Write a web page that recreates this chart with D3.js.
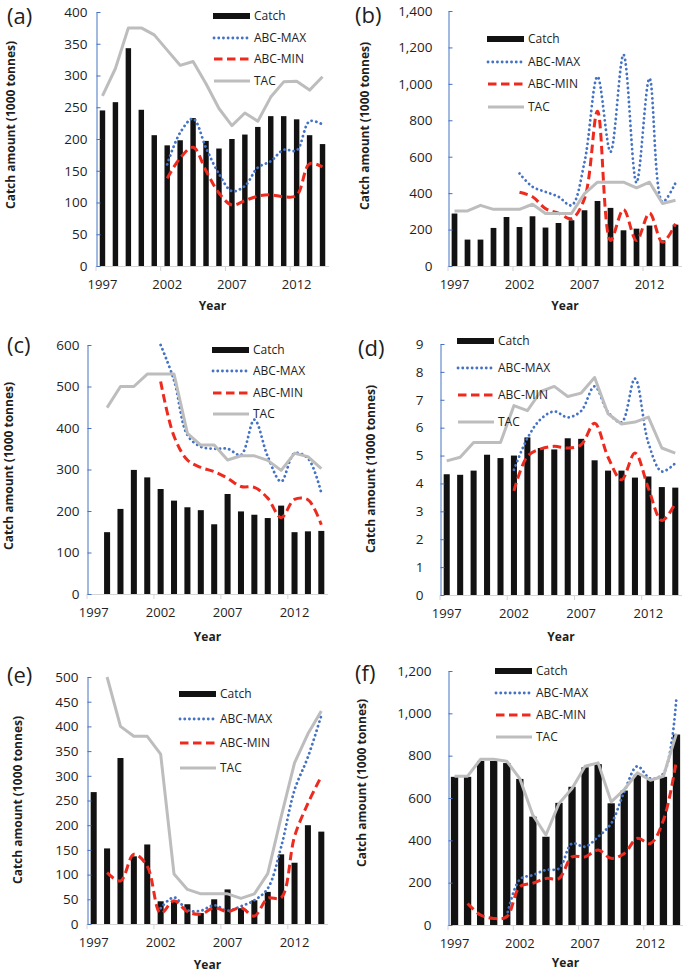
<!DOCTYPE html>
<html lang="en">
<head>
<meta charset="UTF-8">
<title>Catch, ABC and TAC by stock</title>
<script src="https://d3js.org/d3.v7.min.js"></script>
<style>
    body { margin: 0; background: #fff; }
    svg { display: block; }
    text { font-family: "Open Sans", sans-serif; fill: #1e1e1e; }
</style>
</head>
<body>
<svg id="chart" width="685" height="975"></svg>
<script>
// categories
var years = [1997, 1998, 1999, 2000, 2001, 2002, 2003, 2004, 2005, 2006, 2007, 2008, 2009, 2010, 2011, 2012, 2013, 2014];
var yearLabels = [1997, 2002, 2007, 2012];
var seriesNames = ["Catch", "ABC-MAX", "ABC-MIN", "TAC"];
var yTitle = "Catch amount (1000 tonnes)";

// (a)
var catchA  = [245, 258, 343, 246, 206, 190, 198, 233, 197, 185, 200, 207, 219, 236, 236, 231, 206, 192];
var abcMaxA = [null, null, null, null, null, 160, 210, 232, 186, 145, 118, 126, 155, 165, 183, 182, 228, 223];
var abcMinA = [null, null, null, null, null, 138, 170, 187, 150, 115, 96, 103, 110, 112, 109, 111, 161, 156];
var tacA    = [268, 311, 375, 375, 364, 340, 316, 322, 287, 248, 221, 241, 228, 266, 290, 291, 277, 298];

// (b)
var catchB  = [288, 145, 145, 209, 269, 214, 273, 211, 236, 251, 306, 357, 319, 196, 205, 222, 141, 227];
var abcMaxB = [null, null, null, null, null, 508, 435, 407, 380, 333, 570, 1040, 627, 1160, 458, 1030, 352, 456];
var abcMinB = [null, null, null, null, null, 405, 380, 315, 290, 260, 370, 850, 140, 310, 140, 290, 130, 232];
var tacB    = [302, 302, 333, 311, 311, 311, 339, 288, 288, 288, 397, 460, 460, 460, 429, 460, 343, 361];

// (c)
var catchC  = [null, 149, 205, 299, 281, 253, 225, 209, 202, 168, 241, 199, 191, 183, 213, 149, 151, 152];
var abcMaxC = [null, null, null, null, null, 600, 515, 383, 355, 350, 350, 335, 420, 331, 271, 339, 327, 243];
var abcMinC = [null, null, null, null, null, 512, 380, 323, 305, 295, 279, 259, 257, 231, 184, 228, 227, 167];
var tacC    = [null, 449, 500, 500, 530, 530, 530, 387, 359, 359, 323, 333, 333, 322, 298, 339, 331, 302];

// (d)
var catchD  = [4.33, 4.31, 4.46, 5.03, 4.91, 5.0, 5.65, 5.27, 5.22, 5.62, 5.6, 4.83, 4.46, 4.46, 4.21, 4.25, 3.87, 3.85];
var abcMaxD = [null, null, null, null, null, 4.49, 5.62, 6.31, 6.58, 6.37, 6.6, 7.48, 6.56, 6.19, 7.76, 5.45, 4.43, 4.73];
var abcMinD = [null, null, null, null, null, 3.73, 4.97, 5.24, 5.33, 5.27, 5.39, 6.16, 4.94, 4.13, 5.09, 3.83, 2.67, 3.29];
var tacD    = [4.81, 4.94, 5.47, 5.47, 5.47, 6.79, 6.61, 7.3, 7.48, 7.12, 7.24, 7.8, 6.5, 6.13, 6.2, 6.38, 5.27, 5.09];

// (e)
var catchE  = [267, 153, 336, 137, 161, 46, 45, 40, 22, 50, 70, 32, 48, 65, 141, 124, 200, 187];
var abcMaxE = [null, null, null, null, null, 32, 54, 28, 27, 38, 27, 36, 48, 72, 156, 271, 338, 422];
var abcMinE = [null, 104, 87, 141, 117, 22, 47, 25, 20, 33, 25, 33, 16, 52, 53, 177, 244, 299];
var tacE    = [null, 500, 400, 380, 380, 344, 101, 70, 61, 61, 61, 52, 61, 102, 217, 326, 385, 431];

// (f)
var catchF  = [700, 700, 775, 775, 765, 690, 512, 417, 577, 653, 745, 760, 575, 635, 710, 685, 700, 900];
var abcMaxF = [null, null, null, null, 40, 215, 236, 260, 267, 385, 370, 417, 480, 629, 750, 692, 716, 1077];
var abcMinF = [null, 102, 47, 31, 39, 181, 197, 220, 220, 322, 322, 354, 315, 338, 409, 385, 495, 778];
var tacF    = [703, 703, 783, 783, 774, 692, 519, 425, 574, 645, 750, 766, 582, 640, 719, 684, 703, 904];

// panel layout (pixel frame of each small chart)
var panels = [
    { tag: "(a)", data: [catchA, abcMaxA, abcMinA, tacA], yMax: 400,  yStep: 50,  fmt: "d",
      x0: 96,  x1: 329, top: 12,  bottom: 266, pad: 9,  bar: 0.42,
      tagX: 7,   tagY: 24,  titleX: 15,  titleY: 125, yearDy: 44,
      legX: 213, legY: [16, 38, 59, 81] },
    { tag: "(b)", data: [catchB, abcMaxB, abcMinB, tacB], yMax: 1400, yStep: 200, fmt: ",",
      x0: 448, x1: 682, top: 11,  bottom: 266, pad: 16, bar: 0.44,
      tagX: 355, tagY: 23,  titleX: 369, titleY: 126, yearDy: 44,
      legX: 487, legY: [39, 62, 84, 107] },
    { tag: "(c)", data: [catchC, abcMaxC, abcMinC, tacC], yMax: 600,  yStep: 100, fmt: "d",
      x0: 87,  x1: 328, top: 345, bottom: 594, pad: 8,  bar: 0.45,
      tagX: 7,   tagY: 353, titleX: 13,  titleY: 466, yearDy: 47,
      legX: 212, legY: [350, 371, 393, 414] },
    { tag: "(d)", data: [catchD, abcMaxD, abcMinD, tacD], yMax: 9,    yStep: 1,   fmt: "d",
      x0: 440, x1: 682, top: 344, bottom: 595, pad: 17, bar: 0.45,
      tagX: 358, tagY: 356, titleX: 375, titleY: 469, yearDy: 46,
      legX: 457, legY: [341, 368, 395, 422] },
    { tag: "(e)", data: [catchE, abcMaxE, abcMinE, tacE], yMax: 500,  yStep: 50,  fmt: "d",
      x0: 87,  x1: 328, top: 677, bottom: 924, pad: 9,  bar: 0.45,
      tagX: 7,   tagY: 683, titleX: 22,  titleY: 800, yearDy: 45,
      legX: 179, legY: [694, 719, 743, 768] },
    { tag: "(f)", data: [catchF, abcMaxF, abcMinF, tacF], yMax: 1200, yStep: 200, fmt: ",",
      x0: 448, x1: 683, top: 671, bottom: 925, pad: 17, bar: 0.56,
      tagX: 355, tagY: 681, titleX: 366, titleY: 783, yearDy: 42,
      legX: 495, legY: [671, 693, 715, 737] }
];

var blue = "#4472c4", red = "#ee2a1e", gray = "#bdbdbd";
var lineStyles = [
    null,
    { color: blue, width: 2.8, dash: "0.1 4.6", cap: "round", smooth: true },
    { color: red,  width: 3,   dash: "8.5 4.5", cap: "butt",  smooth: true },
    { color: gray, width: 3,   dash: null,      cap: "butt",  smooth: false }
];

var svg = d3.select("#chart");

panels.forEach(function(p) {
    var g = svg.append("g");

    var x = d3.scaleBand()
        .domain(years)
        .range([p.x0, p.x1])
        .paddingInner(1 - p.bar)
        .paddingOuter((1 - p.bar) / 2);

    var xEdge = d3.scaleLinear()
        .domain([0, years.length])
        .range([p.x0, p.x1]);

    var y = d3.scaleLinear()
        .domain([0, p.yMax])
        .range([p.bottom, p.top]);

    // bars
    var catchVals = p.data[0];
    g.selectAll("rect.bar")
        .data(years.map(function(yr, i) { return { year: yr, v: catchVals[i] }; })
                   .filter(function(d) { return d.v != null; }))
        .enter().append("rect")
        .attr("class", "bar")
        .attr("x", function(d) { return x(d.year); })
        .attr("width", x.bandwidth())
        .attr("y", function(d) { return y(d.v); })
        .attr("height", function(d) { return p.bottom - y(d.v); })
        .attr("fill", "#121212");

    // x axis line + ticks on category boundaries
    g.append("line")
        .attr("x1", p.x0).attr("x2", p.x1)
        .attr("y1", p.bottom + 0.5).attr("y2", p.bottom + 0.5)
        .attr("stroke", "#d4d4d4");
    g.selectAll("line.xtick")
        .data([0, 5, 10, 15])
        .enter().append("line")
        .attr("x1", function(d) { return xEdge(d); })
        .attr("x2", function(d) { return xEdge(d); })
        .attr("y1", p.bottom).attr("y2", p.bottom + 5)
        .attr("stroke", "#d4d4d4");

    var xAxis = g.append("g")
        .attr("transform", "translate(0," + p.bottom + ")")
        .call(d3.axisBottom(x).tickValues(yearLabels).tickSize(0).tickPadding(14));
    xAxis.select(".domain").remove();
    xAxis.selectAll("text")
        .style("font-family", "Open Sans, sans-serif")
        .style("font-size", "13px")
        .attr("fill", "#1e1e1e");

    // y axis
    var yAxis = g.append("g")
        .attr("transform", "translate(" + (p.x0 + 0.5) + ",0)")
        .call(d3.axisLeft(y)
            .tickValues(d3.range(0, p.yMax + p.yStep / 2, p.yStep))
            .tickFormat(d3.format(p.fmt))
            .tickSizeInner(-4).tickSizeOuter(0)
            .tickPadding(p.pad));
    yAxis.select(".domain").attr("stroke", blue);
    yAxis.selectAll(".tick line").attr("stroke", blue);
    yAxis.selectAll("text")
        .style("font-family", "Open Sans, sans-serif")
        .style("font-size", "13.5px")
        .attr("fill", "#1e1e1e");

    // lines
    for (var s = 1; s < 4; s++) {
        var vals = p.data[s];
        var st = lineStyles[s];
        var line = d3.line()
            .defined(function(d) { return d.v != null; })
            .x(function(d) { return x(d.year) + x.bandwidth() / 2; })
            .y(function(d) { return y(d.v); })
            .curve(st.smooth ? d3.curveCatmullRom.alpha(0.5) : d3.curveLinear);
        g.append("path")
            .datum(years.map(function(yr, i) { return { year: yr, v: vals[i] }; }))
            .attr("d", line)
            .attr("fill", "none")
            .attr("stroke", st.color)
            .attr("stroke-width", st.width)
            .attr("stroke-linecap", st.cap)
            .attr("stroke-linejoin", "round")
            .attr("stroke-dasharray", st.dash);
    }

    // legend
    seriesNames.forEach(function(name, i) {
        var ly = p.legY[i];
        if (i === 0) {
            g.append("rect")
                .attr("x", p.legX).attr("y", ly - 3)
                .attr("width", 37).attr("height", 6)
                .attr("fill", "#121212");
        } else {
            var st = lineStyles[i];
            g.append("line")
                .attr("x1", p.legX + 1).attr("x2", p.legX + 37)
                .attr("y1", ly).attr("y2", ly)
                .attr("stroke", st.color)
                .attr("stroke-width", st.width)
                .attr("stroke-linecap", st.cap)
                .attr("stroke-dasharray", st.dash);
        }
        g.append("text")
            .attr("x", p.legX + 41)
            .attr("y", ly)
            .attr("dy", "0.35em")
            .style("font-size", "12px")
            .text(name);
    });

    // titles
    g.append("text")
        .attr("x", (p.x0 + p.x1) / 2)
        .attr("y", p.bottom + p.yearDy)
        .attr("text-anchor", "middle")
        .style("font-size", "12px")
        .style("font-weight", "bold")
        .text("Year");

    g.append("text")
        .attr("transform", "translate(" + p.titleX + "," + p.titleY + ") rotate(-90)")
        .attr("text-anchor", "middle")
        .style("font-size", "12px")
        .style("font-weight", "bold")
        .text(yTitle);

    g.append("text")
        .attr("x", p.tagX)
        .attr("y", p.tagY)
        .style("font-size", "22px")
        .text(p.tag);
});
</script>
</body>
</html>
